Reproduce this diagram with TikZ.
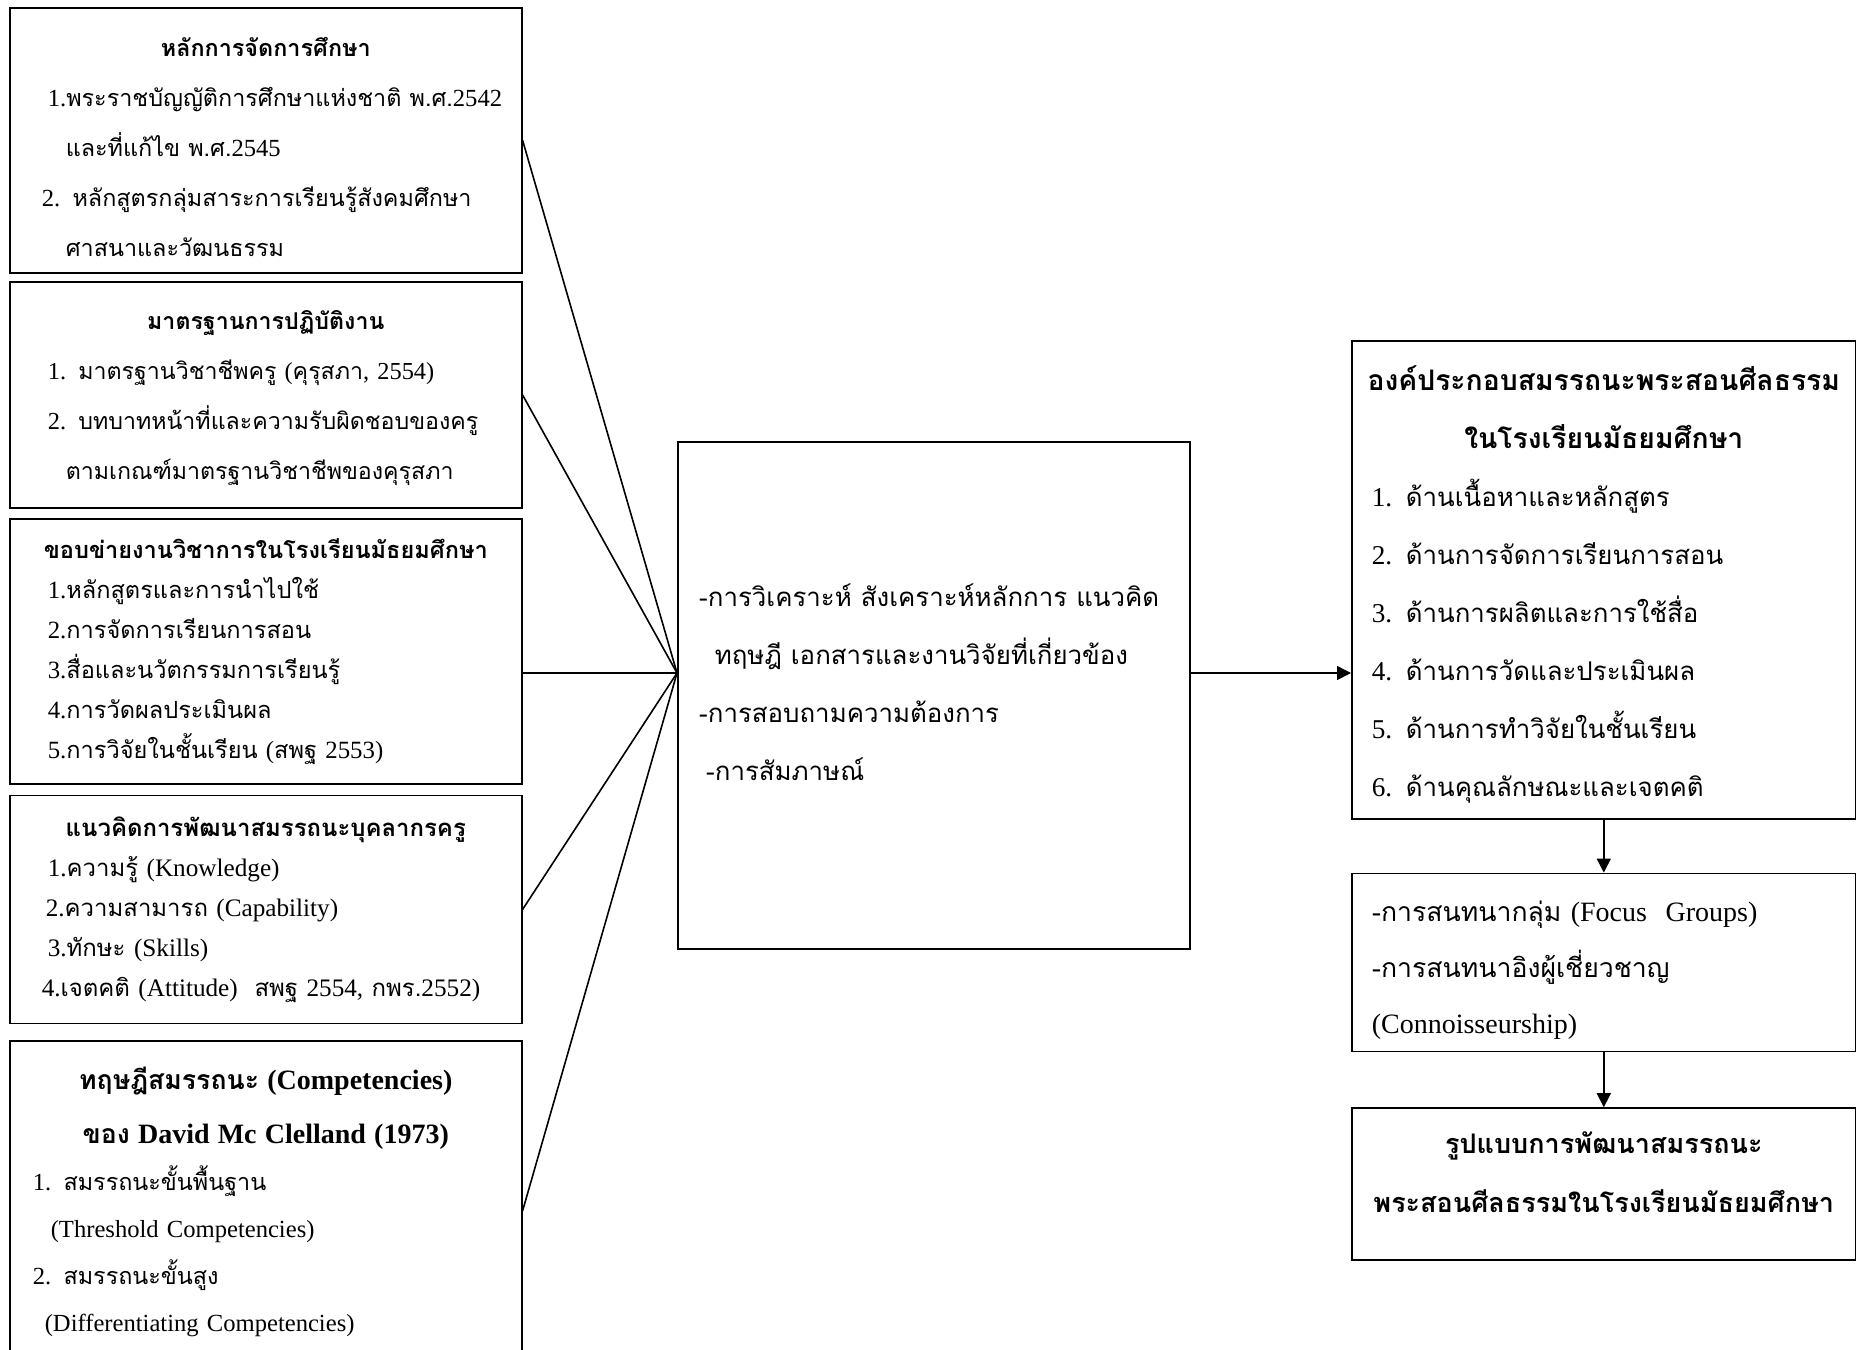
\documentclass[tikz,border=0pt]{standalone}
\usepackage{fontspec}
\setmainfont{Liberation Serif}
\newfontfamily\thaifont[Script=Thai,Scale=0.95]{Loma}
\newcommand{\tha}[1]{{\thaifont #1}}
\newcommand{\ctr}[1]{\makebox[\hsize]{#1}}
\usetikzlibrary{arrows.meta,positioning,calc}

\tikzset{
  frame/.style={draw, line width=0.8pt, inner xsep=0pt, inner ysep=0pt,
                anchor=north west, align=left},
  link/.style={line width=0.8pt},
  flow/.style={line width=0.8pt, -{Triangle[length=7pt,width=7pt]}},
}

\begin{document}
\begin{tikzpicture}[x=0.5pt,y=-0.5pt]
    \useasboundingbox (0,0) rectangle (1856,1349);
    \clip (0,0) rectangle (1856,1349);

    % left column: sources
    \node[frame, text width=256pt, minimum height=132.5pt,
          font=\fontsize{12.3}{25}\selectfont] (principle) at (9,7) {%
        \ctr{\bfseries\tha{หลักการจัดการศึกษา}}\\
        \hspace*{19pt}1.\tha{พระราชบัญญัติการศึกษาแห่งชาติ พ.ศ.}2542\\
        \hspace*{28pt}\tha{และที่แก้ไข พ.ศ.}2545\\
        \hspace*{16pt}2. \tha{หลักสูตรกลุ่มสาระการเรียนรู้สังคมศึกษา}\\
        \hspace*{28pt}\tha{ศาสนาและวัฒนธรรม}\\[-31.5pt]\mbox{}};
    \node[frame, text width=256pt, minimum height=113pt,
          font=\fontsize{12.2}{25}\selectfont, below=3.8pt of principle] (standard) {%
        \ctr{\bfseries\tha{มาตรฐานการปฏิบัติงาน}}\\
        \hspace*{19pt}1. \tha{มาตรฐานวิชาชีพครู} (\tha{คุรุสภา}, 2554)\\
        \hspace*{19pt}2. \tha{บทบาทหน้าที่และความรับผิดชอบของครู}\\
        \hspace*{28pt}\tha{ตามเกณฑ์มาตรฐานวิชาชีพของคุรุสภา}\\[-25pt]\mbox{}};
    \node[frame, text width=256pt, minimum height=132.5pt,
          font=\fontsize{12.4}{20}\selectfont, below=4.7pt of standard] (network) {%
        \ctr{\bfseries\tha{ขอบข่ายงานวิชาการในโรงเรียนมัธยมศึกษา}}\\
        \hspace*{19pt}1.\tha{หลักสูตรและการนำไปใช้}\\
        \hspace*{19pt}2.\tha{การจัดการเรียนการสอน}\\
        \hspace*{19pt}3.\tha{สื่อและนวัตกรรมการเรียนรู้}\\
        \hspace*{19pt}4.\tha{การวัดผลประเมินผล}\\
        \hspace*{19pt}5.\tha{การวิจัยในชั้นเรียน} (\tha{สพฐ} 2553)};
    \node[frame, text width=256pt, minimum height=114pt,
          font=\fontsize{12.6}{20}\selectfont, below=4.9pt of network] (concept) {%
        \ctr{\bfseries\tha{แนวคิดการพัฒนาสมรรถนะบุคลากรครู}}\\
        \hspace*{19pt}1.\tha{ความรู้} (Knowledge)\\
        \hspace*{18pt}2.\tha{ความสามารถ} (Capability)\\
        \hspace*{19pt}3.\tha{ทักษะ} (Skills)\\
        \hspace*{16pt}4.\tha{เจตคติ} (Attitude)\ \ \tha{สพฐ} 2554, \tha{กพร.}2552)};
    \node[frame, text width=256pt, minimum height=170pt,
          font=\fontsize{12.3}{23.5}\selectfont, below=7.9pt of concept] (theory) {%
        \ctr{\fontsize{14}{23.5}\selectfont\bfseries\tha{ทฤษฎีสมรรถนะ} (Competencies)}\\[3.5pt]
        \ctr{\fontsize{14}{23.5}\selectfont\bfseries\tha{ของ} David Mc Clelland (1973)}\\
        \hspace*{11.5pt}1. \tha{สมรรถนะขั้นพื้นฐาน}\\
        \hspace*{20.5pt}(Threshold Competencies)\\
        \hspace*{11.5pt}2. \tha{สมรรถนะขั้นสูง}\\
        \hspace*{17.5pt}(Differentiating Competencies)\\[-11.5pt]\mbox{}};

    % middle: analysis
    \node[frame, text width=256pt, minimum height=253.5pt,
          font=\fontsize{13.6}{29}\selectfont] (analysis) at (677,441) {%
        \hspace*{10.5pt}-\tha{การวิเคราะห์ สังเคราะห์หลักการ แนวคิด}\\
        \hspace*{18.5pt}\tha{ทฤษฎี เอกสารและงานวิจัยที่เกี่ยวข้อง}\\
        \hspace*{10.5pt}-\tha{การสอบถามความต้องการ}\\
        \hspace*{14pt}-\tha{การสัมภาษณ์}\\[-16pt]\mbox{}};
    \coordinate (hub) at ($(analysis.north west)+(0,232)$);

    % right column: results
    \node[frame, text width=252pt, minimum height=239pt,
          font=\fontsize{13.6}{29}\selectfont] (component) at (1351,340) {%
        \ctr{\fontsize{14.9}{29}\selectfont\bfseries\tha{องค์ประกอบสมรรถนะพระสอนศีลธรรม}}\\
        \ctr{\fontsize{14.9}{29}\selectfont\bfseries\tha{ในโรงเรียนมัธยมศึกษา}}\\
        \hspace*{10pt}1. \tha{ด้านเนื้อหาและหลักสูตร}\\
        \hspace*{10pt}2. \tha{ด้านการจัดการเรียนการสอน}\\
        \hspace*{10pt}3. \tha{ด้านการผลิตและการใช้สื่อ}\\
        \hspace*{10pt}4. \tha{ด้านการวัดและประเมินผล}\\
        \hspace*{10pt}5. \tha{ด้านการทำวิจัยในชั้นเรียน}\\
        \hspace*{10pt}6. \tha{ด้านคุณลักษณะและเจตคติ}\\[-30pt]\mbox{}};
    \node[frame, text width=252pt, minimum height=89pt,
          font=\fontsize{14}{28}\selectfont, below=26.5pt of component] (discussion) {%
        \hspace*{10pt}-\tha{การสนทนากลุ่ม} (Focus\ \ Groups)\\
        \hspace*{10pt}-\tha{การสนทนาอิงผู้เชี่ยวชาญ}\\
        \hspace*{10pt}(Connoisseurship)\\[-33pt]\mbox{}};
    \node[frame, text width=252pt, minimum height=76pt,
          font=\fontsize{14.2}{29.5}\selectfont, below=27.5pt of discussion] (model) {%
        \ctr{\bfseries\tha{รูปแบบการพัฒนาสมรรถนะ}}\\
        \ctr{\bfseries\tha{พระสอนศีลธรรมในโรงเรียนมัธยมศึกษา}}\\[-17.5pt]\mbox{}};

    % connectors
    \draw[link] (principle.east) -- (hub);
    \draw[link] (standard.east) -- (hub);
    \draw[link] (network.east |- hub) -- (hub);
    \draw[link] (concept.east) -- (hub);
    \draw[link] (theory.east) -- (hub);
    \draw[flow] (hub -| analysis.east) -- (hub -| component.west);
    \draw[flow] (component.south) -- (discussion.north);
    \draw[flow] (discussion.south) -- (model.north);
\end{tikzpicture}
\end{document}
